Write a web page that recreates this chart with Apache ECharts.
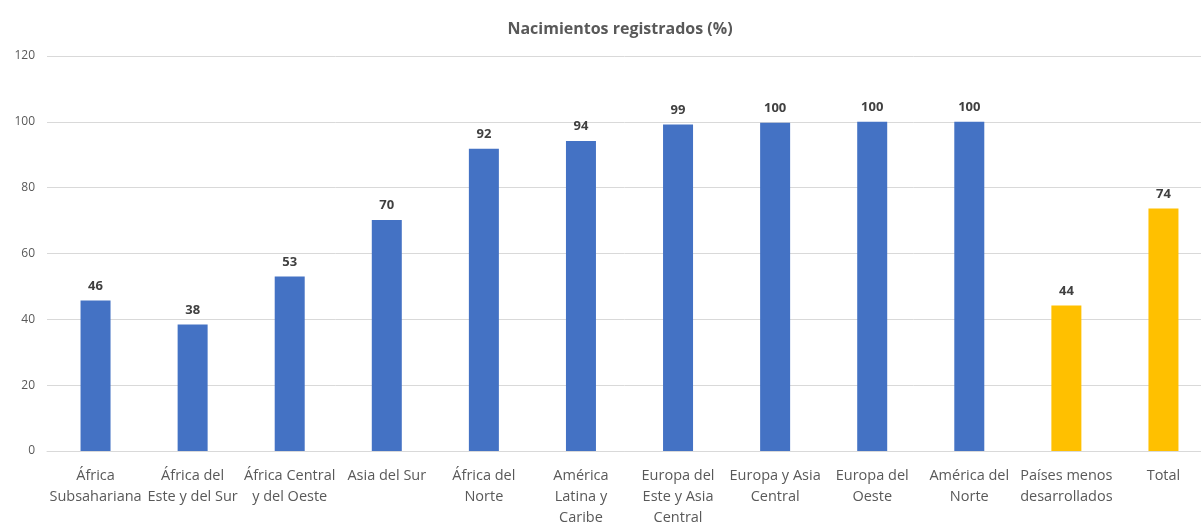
<!DOCTYPE html>
<html>
<head>
<meta charset="utf-8">
<script src="https://cdn.jsdelivr.net/npm/echarts@6/dist/echarts.min.js"></script>
<style>html,body{margin:0;padding:0;background:#fff;}#c{width:1201px;height:524px;}</style>
</head>
<body>
<div id="c"></div>
<script>
var categories = [
  "África\nSubsahariana", "África del\nEste y del Sur", "África Central\ny del Oeste", "Asia del Sur",
  "África del\nNorte", "América\nLatina y\nCaribe", "Europa del\nEste y Asia\nCentral", "Europa y Asia\nCentral",
  "Europa del\nOeste", "América del\nNorte", "Países menos\ndesarrollados", "Total"
];
var values = [45.7, 38.4, 53, 70.2, 91.8, 94.2, 99.2, 99.7, 100, 100, 44.2, 73.7];
var highlighted = [false, false, false, false, false, false, false, false, false, false, true, true];
var yTicks = [0, 20, 40, 60, 80, 100, 120];

var chart = echarts.init(document.getElementById('c'), null, {renderer: 'canvas'});
var font = "'Open Sans', 'Noto Sans', sans-serif";
chart.setOption({
  animation: false,
  backgroundColor: '#ffffff',
  title: {
    text: 'Nacimientos registrados (%)',
    left: 615, top: 16, textAlign: 'center',
    textStyle: {fontFamily: font, fontSize: 16, fontWeight: 'bold', color: '#595959'}
  },
  grid: {left: 47, top: 56, width: 1165, height: 395, outerBoundsMode: 'none', containLabel: false},
  xAxis: {
    type: 'category',
    data: categories,
    axisLine: {lineStyle: {color: '#d9d9d9'}},
    axisTick: {show: false},
    axisLabel: {interval: 0, fontFamily: font, fontSize: 14.5, color: '#595959', margin: 14, lineHeight: 21, verticalAlign: 'top'}
  },
  yAxis: {
    type: 'value',
    min: yTicks[0], max: yTicks[yTicks.length - 1], interval: 20,
    axisLine: {show: false},
    axisTick: {show: false},
    splitLine: {lineStyle: {color: '#d9d9d9'}},
    axisLabel: {fontFamily: font, fontSize: 12, color: '#595959', margin: 12}
  },
  series: [{
    type: 'bar',
    barWidth: 30,
    data: values.map(function (v, i) {
      return {value: v, itemStyle: {color: highlighted[i] ? '#FFC000' : '#4472C4'}};
    }),
    label: {
      show: true, position: 'top', distance: 8,
      fontFamily: font, fontSize: 13, fontWeight: 'bold', color: '#404040',
      formatter: function (p) { return Math.round(p.value); }
    }
  }]
});
</script>
</body>
</html>
